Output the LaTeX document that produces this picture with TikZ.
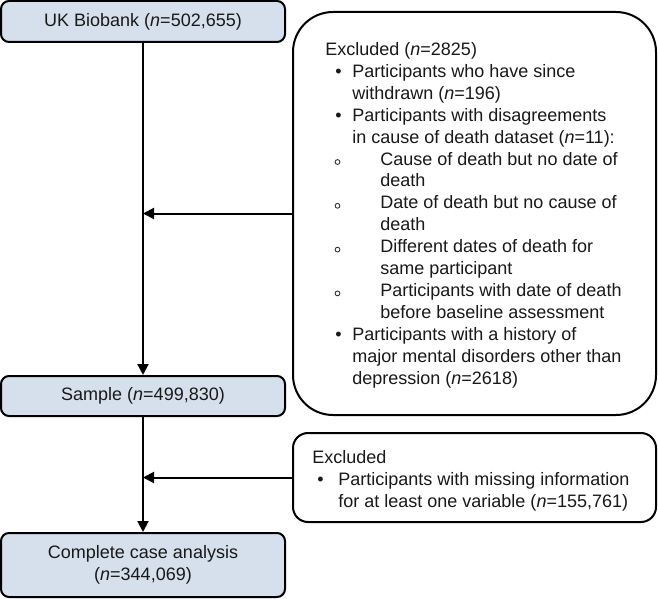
\documentclass[tikz,border=0pt]{standalone}
\usepackage{fontspec}
\setmainfont{Liberation Sans}
\usetikzlibrary{arrows.meta}
\definecolor{boxblue}{RGB}{213,224,236}
\newcommand\mainsz{\fontsize{9pt}{10.95pt}\selectfont}
\begin{document}
\begin{tikzpicture}[x=0.5pt,y=-0.5pt,
  bluebox/.style={draw=black, line width=1pt, fill=boxblue, rounded corners=4pt, inner sep=0pt, align=center, font=\mainsz, text=black!90},
  whitebox/.style={draw=black, line width=1pt, fill=white, inner sep=0pt},
  arr/.style={line width=1pt, -{Triangle[length=5.5pt,width=5.5pt]}},
  ln/.style={anchor=base west, inner sep=0pt, font=\mainsz, text=black!90},
  subbul/.style={circle, draw=black!80, line width=0.45pt, minimum size=2.4pt, inner sep=0pt}]
\useasboundingbox (0,0) rectangle (658,599);

% main flow boxes
\node[bluebox, minimum width=142pt, minimum height=20.5pt] (b1) at (143,21.5) {UK Biobank (\textit{n}=502,655)};
\node[bluebox, minimum width=142pt, minimum height=20pt] (b2) at (143,396) {Sample (\textit{n}=499,830)};
\node[bluebox, minimum width=142pt, minimum height=32pt] (b3) at (143,565) {Complete case analysis\\(\textit{n}=344,069)};

% exclusion boxes
\node[whitebox, rounded corners=20pt, minimum width=181.5pt, minimum height=201.5pt] (ex1) at (474.5,213.5) {};
\node[whitebox, rounded corners=7.5pt, minimum width=181.5pt, minimum height=44.5pt] (ex2) at (474.5,477.5) {};

% text of first exclusion box
\foreach \i/\x/\t in {
  0/325/{Excluded (\textit{n}=2825)},
  1/352/{Participants who have since},
  2/352/{withdrawn (\textit{n}=196)},
  3/352/{Participants with disagreements},
  4/352/{in cause of death dataset (\textit{n}=11):},
  5/380/{Cause of death but no date of},
  6/380/{death},
  7/380/{Date of death but no cause of},
  8/380/{death},
  9/380/{Different dates of death for},
  10/380/{same participant},
  11/380/{Participants with date of death},
  12/380/{before baseline assessment},
  13/352/{Participants with a history of},
  14/352/{major mental disorders other than},
  15/352/{depression (\textit{n}=2618)}}
  \node[ln] (l\i) at (\x,{55.5+21.9*\i}) {\t};
\foreach \i in {1,3,13}
  \node[ln] (bu\i) at (335,{55.5+21.9*\i}) {•};
\foreach \i in {5,7,9,11}
  \node[subbul] (sb\i) at (337.5,{52.5+21.9*\i}) {};

% text of second exclusion box
\node[ln] (m0) at (312,463) {Excluded};
\node[ln] (mb1) at (317,485) {•};
\node[ln] (m1) at (338,485) {Participants with missing information};
\node[ln] (m2) at (338,507) {for at least one variable (\textit{n}=155,761)};

% connectors
\draw[arr] (b1.south) -- (b2.north);
\draw[arr] (b2.south) -- (b3.north);
\draw[arr] (ex1.west) -- (ex1.west -| b1.south);
\draw[arr] (ex2.west) -- (ex2.west -| b2.south);
\end{tikzpicture}
\end{document}
